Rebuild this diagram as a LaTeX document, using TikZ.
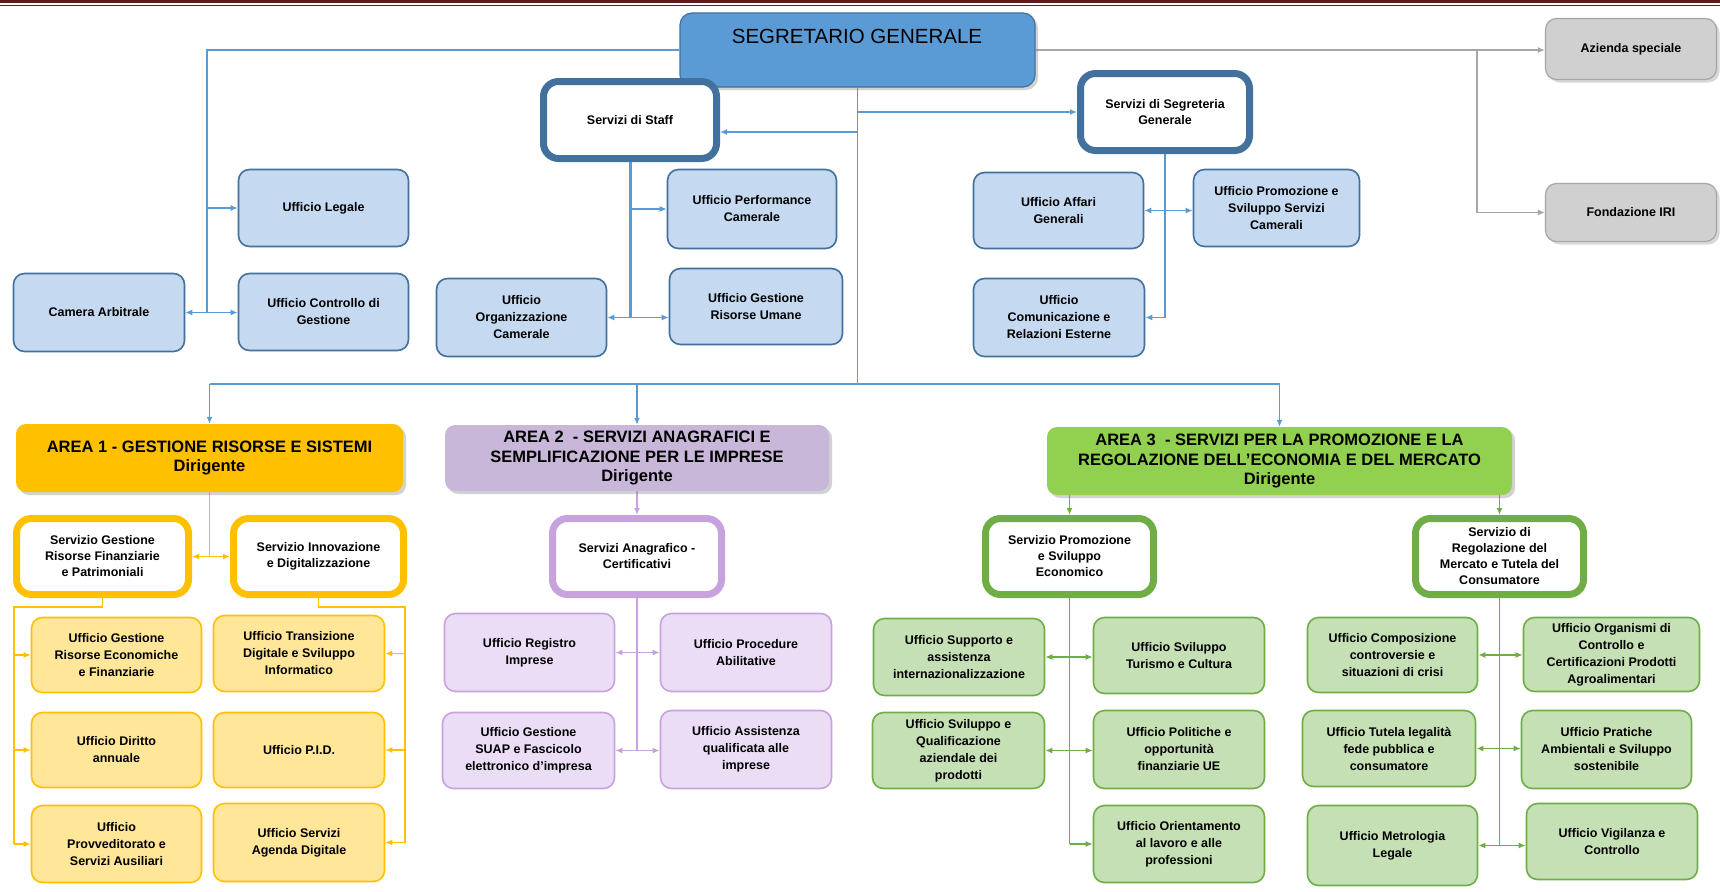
\documentclass[tikz,border=0pt]{standalone}
\usepackage{fontspec}
\setmainfont{Liberation Sans}
\usetikzlibrary{arrows.meta,shadows}
\definecolor{ubf}{HTML}{C5D9F0}
\definecolor{ubd}{HTML}{41719C}
\definecolor{blc}{HTML}{5B9BD5}
\definecolor{gf}{HTML}{D0D0D0}
\definecolor{gc}{HTML}{A6A6A6}
\definecolor{oc}{HTML}{FFC000}
\definecolor{of}{HTML}{FFE699}
\definecolor{a2f}{HTML}{C9B7D9}
\definecolor{pc}{HTML}{C8A2DC}
\definecolor{pf}{HTML}{EADDF5}
\definecolor{a3f}{HTML}{92D050}
\definecolor{grc}{HTML}{70AD47}
\definecolor{grf}{HTML}{C5E0B4}
\definecolor{mar}{HTML}{5C1A1A}
\pgfdeclarelayer{bg}
\pgfsetlayers{bg,main}
\newcommand\mkbox[6]{\node[#1,minimum width=#4pt,minimum height=#5pt] (#2) at (#3) {#6};}
\begin{document}
\begin{tikzpicture}[x=1pt,y=-1pt,
  every node/.style={align=center,inner sep=1pt},
  bxbase/.style={rounded corners=11pt,font=\bfseries\fontsize{12.5}{17}\selectfont,line width=1.6pt},
  ubox/.style={bxbase,draw=ubd,fill=ubf},
  obox/.style={bxbase,draw=oc,fill=of},
  pbox/.style={bxbase,draw=pc,fill=pf},
  grbox/.style={bxbase,draw=grc,fill=grf},
  gbox/.style={bxbase,draw=gc,fill=gf,line width=1.2pt,drop shadow={shadow xshift=3pt,shadow yshift=-3pt,opacity=0.3}},
  svcbase/.style={bxbase,fill=white,line width=7pt,rounded corners=15pt,font=\bfseries\fontsize{12.5}{16}\selectfont},
  svcb/.style={svcbase,draw=ubd},
  osvc/.style={svcbase,draw=oc},
  psvc/.style={svcbase,draw=pc},
  gsvc/.style={svcbase,draw=grc},
  areabase/.style={rounded corners=10pt,font=\bfseries\fontsize{16.5}{19.5}\selectfont,drop shadow={shadow xshift=3pt,shadow yshift=-3pt,opacity=0.35}},
  a1box/.style={areabase,fill=oc},
  a2box/.style={areabase,fill=a2f},
  a3box/.style={areabase,fill=a3f},
  sgbox/.style={rounded corners=12pt,draw=ubd,line width=1.2pt,fill=blc,drop shadow={shadow xshift=3pt,shadow yshift=-3pt,opacity=0.35}},
  bl/.style={draw=blc,line width=1.8pt},
  gl/.style={draw=gc,line width=1.5pt},
  ol/.style={draw=oc,line width=1.8pt},
  pl/.style={draw=pc,line width=1.8pt},
  grl/.style={draw=grc,line width=1.8pt},
  onearr/.style={-{Latex[length=7pt,width=6pt]}},
  twoarr/.style={{Latex[length=7pt,width=6pt]}-{Latex[length=7pt,width=6pt]}}]
\useasboundingbox (0,0) rectangle (1720,891);
% top
\node[sgbox,minimum width=355pt,minimum height=74pt] (sg) at (857.5,50) {};
\node[font=\fontsize{20.5}{24}\selectfont] (sgt) at (857,36) {SEGRETARIO GENERALE};
\mkbox{svcb}{staff}{630,120}{173}{77}{Servizi di Staff}
\mkbox{svcb}{segr}{1165,112}{169}{77}{Servizi di Segreteria\\Generale}
\mkbox{gbox}{az}{1631,49}{171}{61}{Azienda speciale}
\mkbox{gbox}{fond}{1631,212.5}{171}{58}{Fondazione IRI}
\mkbox{ubox}{legale}{323.5,208}{170}{77}{Ufficio Legale}
\mkbox{ubox}{camera}{99,312.5}{171}{78}{Camera Arbitrale}
\mkbox{ubox}{controllo}{323.5,312}{170}{77}{Ufficio Controllo di\\Gestione}
\mkbox{ubox}{perf}{752,209}{169}{79}{Ufficio Performance\\Camerale}
\mkbox{ubox}{gru}{756,306.5}{173}{76}{Ufficio Gestione\\Risorse Umane}
\mkbox{ubox}{org}{521.5,317.5}{170}{78}{Ufficio\\Organizzazione\\Camerale}
\mkbox{ubox}{affari}{1058.5,210.5}{170}{76}{Ufficio Affari\\Generali}
\mkbox{ubox}{promoz}{1276.5,208}{166}{77}{Ufficio Promozione e\\Sviluppo Servizi\\Camerali}
\mkbox{ubox}{comunic}{1059,317.5}{171}{78}{Ufficio\\Comunicazione e\\Relazioni Esterne}
% areas
\mkbox{a1box}{area1}{209.5,458}{387}{68}{AREA 1 - GESTIONE RISORSE E SISTEMI\\Dirigente}
\mkbox{a2box}{area2}{637,458}{384}{66}{AREA 2 \ - SERVIZI ANAGRAFICI E\\SEMPLIFICAZIONE PER LE IMPRESE\\Dirigente}
\mkbox{a3box}{area3}{1279.5,461}{465}{68}{AREA 3 \ - SERVIZI PER LA PROMOZIONE E LA\\REGOLAZIONE DELL'ECONOMIA E DEL MERCATO\\Dirigente}
% area 1
\mkbox{osvc}{sgrf}{102.5,556.5}{172}{76}{Servizio Gestione\\Risorse Finanziarie\\e Patrimoniali}
\mkbox{osvc}{sinn}{318.5,556.5}{170}{76}{Servizio Innovazione\\e Digitalizzazione}
\mkbox{obox}{ug1}{116.5,655}{170}{75}{Ufficio Gestione\\Risorse Economiche\\e Finanziarie}
\mkbox{obox}{ug2}{116.5,750}{170}{75}{Ufficio Diritto\\annuale}
\mkbox{obox}{ug3}{116.5,844}{170}{77}{Ufficio\\Provveditorato e\\Servizi Ausiliari}
\mkbox{obox}{ui1}{299,653.5}{171}{76}{Ufficio Transizione\\Digitale e Sviluppo\\Informatico}
\mkbox{obox}{ui2}{299,750}{171}{75}{Ufficio P.I.D.}
\mkbox{obox}{ui3}{299,842.5}{171}{78}{Ufficio Servizi\\Agenda Digitale}
% area 2
\mkbox{psvc}{sac}{637,556.5}{169}{76}{Servizi Anagrafico -\\Certificativi}
\mkbox{pbox}{rim}{529.5,652.5}{170}{78}{Ufficio Registro\\Imprese}
\mkbox{pbox}{pab}{746,652.5}{171}{78}{Ufficio Procedure\\Abilitative}
\mkbox{pbox}{suap}{528.5,750.5}{172}{76}{Ufficio Gestione\\SUAP e Fascicolo\\elettronico d'impresa}
\mkbox{pbox}{ass}{746,749.5}{171}{78}{Ufficio Assistenza\\qualificata alle\\imprese}
% area 3
\mkbox{gsvc}{spe}{1069.5,556.5}{168}{76}{Servizio Promozione\\e Sviluppo\\Economico}
\mkbox{grbox}{sup}{959,657}{171}{77}{Ufficio Supporto e\\assistenza\\internazionalizzazione}
\mkbox{grbox}{tur}{1179,655.5}{171}{76}{Ufficio Sviluppo\\Turismo e Cultura}
\mkbox{grbox}{qual}{958.5,750.5}{172}{76}{Ufficio Sviluppo e\\Qualificazione\\aziendale dei\\prodotti}
\mkbox{grbox}{pol}{1179,749.5}{171}{78}{Ufficio Politiche e\\opportunità\\finanziarie UE}
\mkbox{grbox}{ori}{1179,844}{171}{77}{Ufficio Orientamento\\al lavoro e alle\\professioni}
\mkbox{gsvc}{sreg}{1499.5,556.5}{168}{76}{Servizio di\\Regolazione del\\Mercato e Tutela del\\Consumatore}
\mkbox{grbox}{comp}{1392.5,655}{170}{75}{Ufficio Composizione\\controversie e\\situazioni di crisi}
\mkbox{grbox}{orgm}{1611.5,654.5}{176}{74}{Ufficio Organismi di\\Controllo e\\Certificazioni Prodotti\\Agroalimentari}
\mkbox{grbox}{tut}{1389,748.5}{173}{76}{Ufficio Tutela legalità\\fede pubblica e\\consumatore}
\mkbox{grbox}{prat}{1606.5,749.5}{170}{78}{Ufficio Pratiche\\Ambientali e Sviluppo\\sostenibile}
\mkbox{grbox}{metr}{1392.5,845.5}{170}{80}{Ufficio Metrologia\\Legale}
\mkbox{grbox}{vig}{1612,841.5}{171}{76}{Ufficio Vigilanza e\\Controllo}
% helper coordinates
\coordinate (lx) at (207,0);
\coordinate (bus) at (0,384);
\coordinate (gx) at (1477,0);
\coordinate (stA) at ([yshift=-12pt]staff.east);
\coordinate (lt) at (14,607);
\coordinate (rt) at (405,607);
\begin{pgfonlayer}{bg}
\fill[white] (0,0) rectangle (1720,891);
% staff side left
\draw[bl] (sg.west) -| (lx |- camera.east);
\draw[bl,onearr] (lx |- legale.west) -- (legale.west);
\draw[bl,twoarr] (camera.east) -- (camera.east -| controllo.west);
% main bus
\draw[bl] (sg.south) -- (sg.south |- bus);
\draw[bl] (area1.north |- bus) -- (area3.north |- bus);
\draw[bl,onearr] (area1.north |- bus) -- (area1.north);
\draw[bl,onearr] (area2.north |- bus) -- (area2.north);
\draw[bl,onearr] (area3.north |- bus) -- (area3.north);
\draw[bl,onearr] (sg.south |- stA) -- (stA);
\draw[bl,onearr] (sg.south |- segr.west) -- (segr.west);
% staff
\draw[bl,line width=3pt] (staff.south) -- (staff.south |- org.east);
\draw[bl,onearr] (staff.south |- perf.west) -- (perf.west);
\draw[bl,twoarr] (org.east) -- (org.east -| gru.west);
% segreteria
\draw[bl] (segr.south) -- (segr.south |- comunic.east);
\draw[bl,twoarr] (affari.east) -- (affari.east -| promoz.west);
\draw[bl,onearr] (segr.south |- comunic.east) -- (comunic.east);
% gray
\draw[gl,onearr] (sg.east) -- (sg.east -| az.west);
\draw[gl,onearr] (gx |- sg.east) |- (fond.west);
% area 1
\draw[ol] (area1.south) -- (area1.south |- sgrf.east);
\draw[ol,twoarr] (sgrf.east) -- (sinn.west);
\draw[ol] (sgrf.south) |- (lt) -- (lt |- ug3.west);
\draw[ol,onearr] (lt |- ug1.west) -- (ug1.west);
\draw[ol,onearr] (lt |- ug2.west) -- (ug2.west);
\draw[ol,onearr] (lt |- ug3.west) -- (ug3.west);
\draw[ol] (sinn.south) |- (rt) -- (rt |- ui3.east);
\draw[ol,onearr] (rt |- ui1.east) -- (ui1.east);
\draw[ol,onearr] (rt |- ui2.east) -- (ui2.east);
\draw[ol,onearr] (rt |- ui3.east) -- (ui3.east);
% area 2
\draw[pl,onearr] (area2.south) -- (sac.north);
\draw[pl] (sac.south) -- (sac.south |- suap.east);
\draw[pl,twoarr] (rim.east) -- (rim.east -| pab.west);
\draw[pl,twoarr] (suap.east) -- (suap.east -| ass.west);
% area 3
\draw[grl,onearr] (spe.north |- area3.south) -- (spe.north);
\draw[grl,onearr] (sreg.north |- area3.south) -- (sreg.north);
\draw[grl] (spe.south) -- (spe.south |- ori.west);
\draw[grl,twoarr] (sup.east) -- (sup.east -| tur.west);
\draw[grl,twoarr] (qual.east) -- (qual.east -| pol.west);
\draw[grl,onearr] (spe.south |- ori.west) -- (ori.west);
\draw[grl] (sreg.south) -- (sreg.south |- metr.east);
\draw[grl,twoarr] (comp.east) -- (comp.east -| orgm.west);
\draw[grl,twoarr] (tut.east) -- (tut.east -| prat.west);
\draw[grl,twoarr] (metr.east) -- (metr.east -| vig.west);
\end{pgfonlayer}
% top rule
\fill[mar] (0,0) rectangle (1720,3);
\draw[mar,line width=0.8pt] (0,5) -- (1720,5);
\end{tikzpicture}
\end{document}
